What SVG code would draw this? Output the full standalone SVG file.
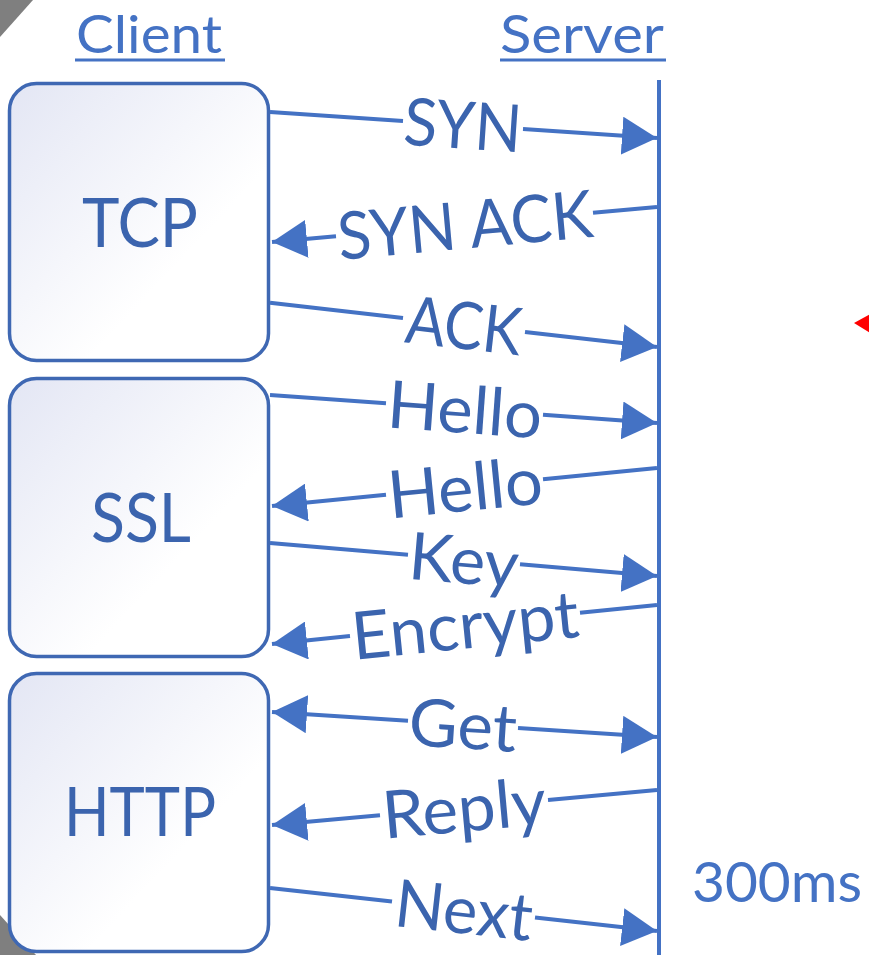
<svg xmlns="http://www.w3.org/2000/svg" width="869" height="955" viewBox="0 0 869 955">
  <style>
    .box { fill: url(#boxgrad); stroke: #3F68B3; stroke-width: 3.5; }
    .boxlabel { font-family: Lato, "Open Sans", sans-serif; font-size: 68px; fill: #3B64AE; text-anchor: middle; }
    .header { font-family: Lato, "Open Sans", sans-serif; font-size: 53px; fill: #4472C4; text-anchor: middle; }
    .uline { stroke: #4472C4; stroke-width: 3; }
    .msg { fill: none; stroke: #4472C4; stroke-width: 4; stroke-linecap: butt; }
    .arrow { marker-end: url(#ah); }
    .lbl { font-family: Lato, "Open Sans", sans-serif; font-size: 66px; fill: #3B64AE; text-anchor: middle; }
    .life { stroke: #4472C4; stroke-width: 4; }
    .time { font-family: Lato, "Open Sans", sans-serif; font-size: 57px; fill: #4472C4; }
  </style>
  <defs>
    <linearGradient id="boxgrad" x1="0" y1="0" x2="1" y2="1">
      <stop offset="0" stop-color="#E3E6F4"/>
      <stop offset="0.65" stop-color="#FFFFFF"/>
      <stop offset="1" stop-color="#FFFFFF"/>
    </linearGradient>
    <marker id="ah" viewBox="0 0 35 38" refX="35" refY="19" markerWidth="35" markerHeight="38" markerUnits="userSpaceOnUse" orient="auto">
      <path d="M0,0 L35,19 L0,38 Z" fill="#4472C4"/>
    </marker>
  </defs>
  <rect width="869" height="955" fill="#FFFFFF"/>

  <!-- corner marks -->
  <polygon points="0,0 33,0 0,37" fill="#7F7F7F"/>
  <polygon points="0,915 0,955 36,955" fill="#7F7F7F"/>
  <polygon points="854,323 872,313 872,334" fill="#FF0000"/>

  <!-- headers -->
  <g id="client-header">
    <text class="header" x="149" y="53" textLength="146" lengthAdjust="spacingAndGlyphs">Client</text>
    <line class="uline" x1="75" y1="60" x2="225" y2="60"/>
  </g>
  <g id="server-header">
    <text class="header" x="582" y="53" textLength="164" lengthAdjust="spacingAndGlyphs">Server</text>
    <line class="uline" x1="500" y1="60" x2="666" y2="60"/>
  </g>

  <!-- client boxes -->
  <g id="tcp">
    <rect class="box" x="9.5" y="83.5" width="259" height="277" rx="27"/>
    <text class="boxlabel" x="140" y="247" textLength="116" lengthAdjust="spacingAndGlyphs">TCP</text>
  </g>
  <g id="ssl">
    <rect class="box" x="9.5" y="378.5" width="259" height="278" rx="27"/>
    <text class="boxlabel" x="141" y="542" textLength="100" lengthAdjust="spacingAndGlyphs">SSL</text>
  </g>
  <g id="http">
    <rect class="box" x="9.5" y="673.5" width="259" height="278" rx="27"/>
    <text class="boxlabel" x="140" y="836" textLength="152" lengthAdjust="spacingAndGlyphs">HTTP</text>
  </g>

  <!-- server lifeline -->
  <g id="server">
    <line class="life" x1="659" y1="80" x2="659" y2="955"/>
    <text class="time" x="692" y="902" textLength="170" lengthAdjust="spacingAndGlyphs">300ms</text>
  </g>

  <!-- messages -->
  <g id="connectors">
    <g id="m-syn">
      <path class="msg" d="M270,112 L403,120.9"/>
      <path class="msg arrow" d="M523,129 L657,138"/>
      <text class="lbl" transform="translate(463,124.5) rotate(3.84)" y="24" textLength="118" lengthAdjust="spacingAndGlyphs">SYN</text>
    </g>
    <g id="m-synack">
      <path class="msg" d="M657,207 L593,212.8"/>
      <path class="msg arrow" d="M336,236.2 L272,242"/>
      <text class="lbl" transform="translate(465,224.5) rotate(-5.19)" y="24" textLength="256" lengthAdjust="spacingAndGlyphs">SYN ACK</text>
    </g>
    <g id="m-ack">
      <path class="msg" d="M270,302.8 L403,318"/>
      <path class="msg arrow" d="M525,331.9 L657,347"/>
      <text class="lbl" transform="translate(464,325) rotate(6.52)" y="24" textLength="116" lengthAdjust="spacingAndGlyphs">ACK</text>
    </g>
    <g id="m-hello1">
      <path class="msg" d="M270,395 L386,403.3"/>
      <path class="msg arrow" d="M543,414.7 L657,423"/>
      <text class="lbl" transform="translate(465,409) rotate(4.16)" y="24" textLength="155" lengthAdjust="spacingAndGlyphs">Hello</text>
    </g>
    <g id="m-hello2">
      <path class="msg" d="M657,468 L543,479.3"/>
      <path class="msg arrow" d="M386,494.7 L272,506"/>
      <text class="lbl" transform="translate(465,487) rotate(-5.64)" y="24" textLength="155" lengthAdjust="spacingAndGlyphs">Hello</text>
    </g>
    <g id="m-key">
      <path class="msg" d="M270,543 L408,554.7"/>
      <path class="msg arrow" d="M520,564.3 L657,576"/>
      <text class="lbl" transform="translate(464,559.5) rotate(4.9)" y="24" textLength="110" lengthAdjust="spacingAndGlyphs">Key</text>
    </g>
    <g id="m-encrypt">
      <path class="msg" d="M657,605 L580,612.8"/>
      <path class="msg arrow" d="M350,636.1 L272,644"/>
      <text class="lbl" transform="translate(465,624.5) rotate(-5.78)" y="24" textLength="228" lengthAdjust="spacingAndGlyphs">Encrypt</text>
    </g>
    <g id="m-get">
      <path class="msg arrow" d="M408,720.8 L272,712"/>
      <path class="msg arrow" d="M518,728 L657,737"/>
      <text class="lbl" transform="translate(463,724.5) rotate(3.7)" y="24" textLength="108" lengthAdjust="spacingAndGlyphs">Get</text>
    </g>
    <g id="m-reply">
      <path class="msg" d="M657,790 L548,799.9"/>
      <path class="msg arrow" d="M380,815.2 L272,825"/>
      <text class="lbl" transform="translate(464,807.5) rotate(-5.19)" y="24" textLength="164" lengthAdjust="spacingAndGlyphs">Reply</text>
    </g>
    <g id="m-next">
      <path class="msg" d="M270,888 L392,901.6"/>
      <path class="msg arrow" d="M535,917.4 L657,931"/>
      <text class="lbl" transform="translate(464,909.5) rotate(6.37)" y="24" textLength="138" lengthAdjust="spacingAndGlyphs">Next</text>
    </g>
  </g>
</svg>
